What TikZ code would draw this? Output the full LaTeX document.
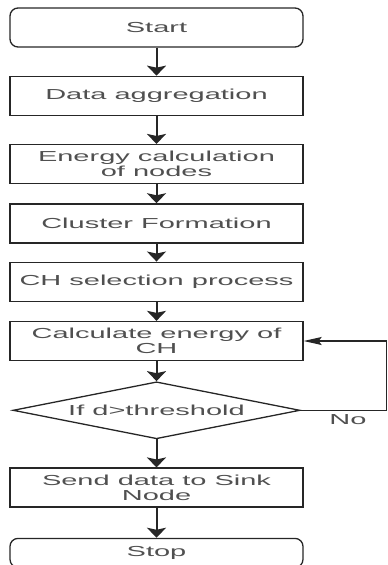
\documentclass[tikz,border=0pt]{standalone}
\usepackage{fontspec}
\newfontfamily\flowfont[FakeStretch=2.0]{Liberation Sans}
\usetikzlibrary{arrows.meta,positioning,shapes.geometric}
\definecolor{boxline}{HTML}{262626}
\definecolor{boxtext}{HTML}{505050}

\begin{document}
\begin{tikzpicture}[x=1pt,y=1pt,
  every node/.style={font=\flowfont\fontsize{14.5}{15}\selectfont, text=boxtext},
  process/.style={draw=boxline, line width=1.3pt, minimum width=293pt,
    minimum height=39pt, inner sep=0pt, align=center},
  terminal/.style={process, rounded corners=8pt},
  decision/.style={diamond, draw=boxline, line width=1.3pt, minimum width=287pt,
    minimum height=57pt, inner sep=0pt, aspect=5},
  down/.style={draw=boxline, line width=2pt, -{Stealth[length=10pt,width=19pt,inset=2pt]}},
  back/.style={draw=boxline, line width=1.2pt, -{Stealth[length=18pt,width=8pt,inset=3pt]}}]
  \useasboundingbox (0,0) rectangle (388,-565);

  \node[terminal] (start) at (156.5,-27.5) {Start};
  \node[process, below=28pt of start] (aggr) {Data aggregation};
  \node[process, below=28pt of aggr] (energy) {Energy calculation\\of nodes};
  \node[process, below=19pt of energy] (cluster) {Cluster Formation};
  \node[process, below=18pt of cluster] (chsel) {CH selection process};
  \node[process, below=19pt of chsel] (calc) {Calculate energy of\\CH};
  \node[decision, below=20pt of calc] (dec) {If d>threshold};
  \node[process, below=28pt of dec] (sink) {Send data to Sink\\Node};
  \node[terminal, minimum height=29pt, below=30pt of sink] (stop) {Stop};

  \path (start)   edge[down] (aggr)
        (aggr)    edge[down] (energy)
        (energy)  edge[down] (cluster)
        (cluster) edge[down] (chsel)
        (chsel)   edge[down] (calc)
        (calc)    edge[down] (dec)
        (dec)     edge[down] (sink)
        (sink)    edge[down] (stop);

  % no: back to the energy of the CH
  \draw[back] (dec.east) -- node[pos=0.55, below] {No} ++(86,0) coordinate (loopcorner)
    |- (calc.east);
\end{tikzpicture}
\end{document}
